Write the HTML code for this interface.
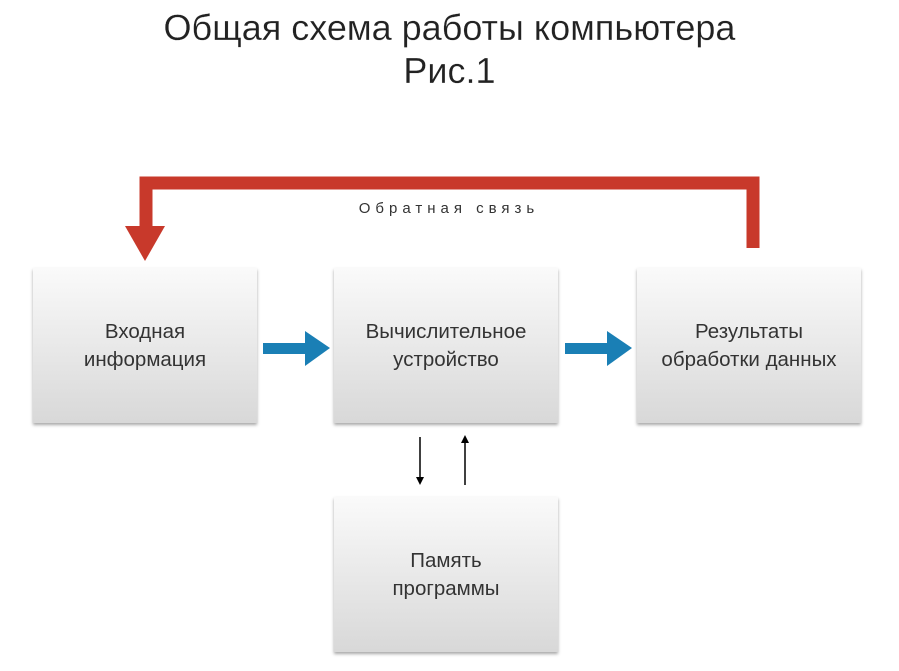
<!DOCTYPE html>
<html><head><meta charset="utf-8"><style>
body{margin:0;width:899px;height:671px;background:#fff;position:relative;overflow:hidden;font-family:"Liberation Sans",sans-serif;}
.t{position:absolute;left:0;width:899px;text-align:center;font-size:36px;color:#222;-webkit-text-stroke:0.2px #fff;}
.box{position:absolute;width:224px;height:155px;background:linear-gradient(#fafafa,#d8d8d8);box-shadow:0 2px 3px rgba(0,0,0,.35);display:flex;align-items:center;justify-content:center;text-align:center;font-size:20.5px;line-height:28px;color:#333;}
</style></head><body>
<div class="t" style="top:7px">Общая схема работы компьютера</div>
<div class="t" style="top:50px">Рис.1</div>
<svg style="position:absolute;left:0;top:0" width="899" height="671">
<path d="M146 240 V183 H753 V248" fill="none" stroke="#c8392b" stroke-width="13"/>
<polygon points="125,226 165,226 145,261" fill="#c8392b"/>
<rect x="263" y="343" width="44" height="11" fill="#1a7fb5"/>
<polygon points="305,331 330,348 305,366" fill="#1a7fb5"/>
<rect x="565" y="343" width="44" height="11" fill="#1a7fb5"/>
<polygon points="607,331 632,348 607,366" fill="#1a7fb5"/>
<line x1="420" y1="437" x2="420" y2="478" stroke="#000" stroke-width="1.5"/>
<polygon points="416,477 424,477 420,485" fill="#000"/>
<line x1="465" y1="442" x2="465" y2="485" stroke="#000" stroke-width="1.5"/>
<polygon points="461,443 469,443 465,435" fill="#000"/>
<text x="449" y="213" text-anchor="middle" font-size="15" letter-spacing="5" fill="#333" font-family="Liberation Sans, sans-serif">Обратная связь</text>
</svg>
<div class="box" style="left:33px;top:268px">Входная<br>информация</div>
<div class="box" style="left:334px;top:268px">Вычислительное<br>устройство</div>
<div class="box" style="left:637px;top:268px">Результаты<br>обработки данных</div>
<div class="box" style="left:334px;top:497px">Память<br>программы</div>
</body></html>
